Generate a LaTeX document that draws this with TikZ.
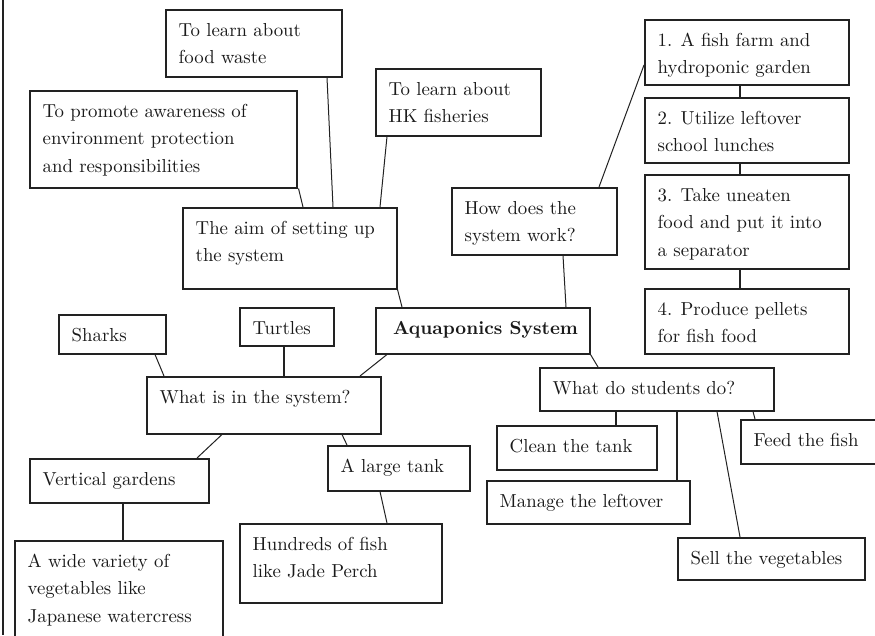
\documentclass[tikz,border=0pt]{standalone}
\usepackage{fontspec}
\setmainfont{lmroman10-regular.otf}[BoldFont=lmroman10-bold.otf]
\usetikzlibrary{calc}
\definecolor{boxc}{HTML}{222222}
\definecolor{txtc}{HTML}{1A1A1A}
\tikzset{
  box/.style={draw=boxc, anchor=north west, inner sep=0pt, line width=1.5pt},
  txt/.style={anchor=base west, inner sep=0pt, text=txtc, font=\fontsize{18.8}{27.5}\selectfont},
  link/.style={draw=boxc, line width=1pt},
  vlink/.style={draw=boxc, line width=1.6pt},
}
\newcommand\mybx[6]{%
  \node[box, minimum width={(#4-#2)*1pt}, minimum height={(#5-#3)*1pt}] (#1) at (#2,#3) {};
  \node[txt] (#1-t) at ([xshift=13.5pt,yshift=-27pt]#1.north west) {\begin{tabular}[t]{@{}l@{}}#6\end{tabular}};}
\begin{document}
\begin{tikzpicture}[x=1pt,y=-1pt]
\useasboundingbox (0,0) rectangle (875,635);
\clip (0,0) rectangle (875,635);
\fill[white] (0,0) rectangle (875,635);
\draw[boxc, line width=2pt] (3,0) -- (3,635);
% aims
\mybx{food}{165}{9}{341}{76}{To learn about\\food waste}
\mybx{promote}{29}{90}{296}{187}{To promote awareness of\\environment protection\\and responsibilities}
\mybx{hk}{375}{68}{540}{135}{To learn about\\HK fisheries}
\mybx{aim}{182}{207}{396}{288}{The aim of setting up\\the system}
% how
\mybx{how}{451}{187}{616}{254}{How does the\\system work?}
\mybx{n1}{644}{19}{848}{84}{1. A fish farm and\\hydroponic garden}
\mybx{n2}{644}{97}{848}{162}{2. Utilize leftover\\school lunches}
\mybx{n3}{644}{174}{848}{268}{3. Take uneaten\\food and put it into\\a separator}
\mybx{n4}{644}{288}{848}{353}{4. Produce pellets\\for fish food}
% centre
\mybx{aqua}{375}{307}{589}{353}{\hspace*{4.5pt}\bfseries Aquaponics System}
% what is in
\mybx{sharks}{58}{314}{165}{353}{Sharks}
\mybx{turtles}{239}{307}{333}{345}{Turtles}
\mybx{what}{146}{376}{380}{433}{What is in the system?}
\mybx{vert}{29}{458}{208}{502}{Vertical gardens}
\mybx{wide}{14}{540}{222}{645}{A wide variety of\\vegetables like\\Japanese watercress}
\mybx{tank}{327}{445}{469}{490}{A large tank}
\mybx{hund}{239}{523}{441}{602}{Hundreds of fish\\like Jade Perch}
% students
\mybx{stud}{539}{367}{773}{410}{What do students do?}
\mybx{clean}{496}{425}{656}{469}{Clean the tank}
\mybx{manage}{486}{480}{689}{523}{Manage the leftover}
\mybx{feed}{740}{419}{885}{463}{Feed the fish}
\mybx{sell}{677}{537}{864}{579}{Sell the vegetables}
% connectors
\draw[link] ([xshift=162pt]food.south west) -- ([xshift=151pt]aim.north west);
\draw[link] ([xshift=1pt]promote.south east) -- ([xshift=121pt]aim.north west);
\draw[link] ([xshift=12pt]hk.south west) -- ([xshift=198pt]aim.north west);
\draw[link] (aim.south east) -- ([xshift=27pt]aqua.north west);
\draw[link] ([xshift=148pt]how.north west) -- ([yshift=-46pt]n1.north west);
\draw[link] ([xshift=112pt]how.south west) -- ([xshift=191pt]aqua.north west);
\draw[vlink] ([xshift=96pt]n1.south west) -- ([xshift=96pt]n2.north west);
\draw[vlink] ([xshift=96pt]n2.south west) -- ([xshift=96pt]n3.north west);
\draw[vlink] ([xshift=96pt]n3.south west) -- ([xshift=96pt]n4.north west);
\draw[link] ([xshift=12pt]aqua.south west) -- ([xshift=214pt]what.north west);
\draw[link] ([xshift=97pt]sharks.south west) -- ([xshift=18pt]what.north west);
\draw[vlink] ([xshift=45pt]turtles.south west) -- ([xshift=138pt]what.north west);
\draw[link] ([xshift=76pt]what.south west) -- ([xshift=168pt]vert.north west);
\draw[link] ([xshift=196pt]what.south west) -- ([xshift=20pt]tank.north west);
\draw[vlink] ([xshift=94pt]vert.south west) -- ([xshift=109pt]wide.north west);
\draw[link] ([xshift=53pt]tank.south west) -- ([xshift=148pt]hund.north west);
\draw[link] (aqua.south east) -- ([xshift=59pt]stud.north west);
\draw[vlink] ([xshift=77pt]stud.south west) -- ([xshift=120pt]clean.north west);
\draw[vlink] ([xshift=138pt]stud.south west) -- ([xshift=191pt]manage.north west);
\draw[link] ([xshift=178pt]stud.south west) -- ([xshift=63pt]sell.north west);
\draw[link] ([xshift=214pt]stud.south west) -- ([xshift=15pt]feed.north west);
\end{tikzpicture}
\end{document}
